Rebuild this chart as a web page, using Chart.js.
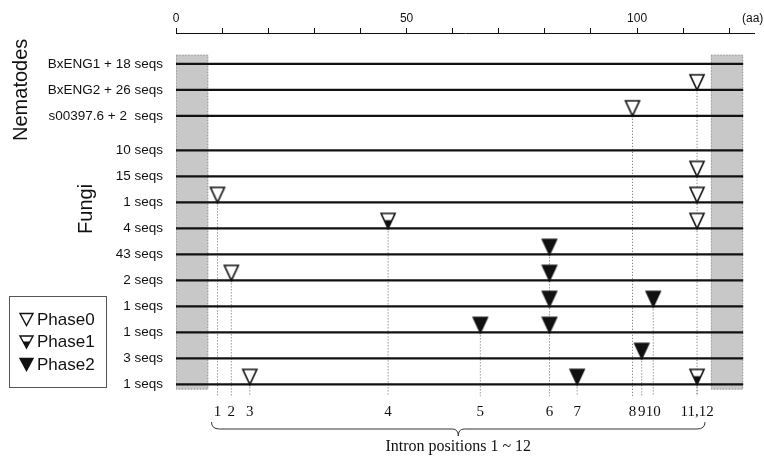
<!DOCTYPE html>
<html lang="en">
<head>
<meta charset="UTF-8">
<title>Intron positions</title>
<script src="https://cdn.jsdelivr.net/npm/chart.js@4.4.1/dist/chart.umd.min.js"></script>
<style>
    html, body { margin: 0; padding: 0; background: #fff; }
</style>
</head>
<body>
<canvas id="chart" width="764" height="459"></canvas>
<script>
// Rows, top to bottom
const rowLabels = ['BxENG1 + 18 seqs', 'BxENG2 + 26 seqs', 's00397.6 + 2  seqs',
    '10 seqs', '15 seqs', '1 seqs', '4 seqs', '43 seqs', '2 seqs', '1 seqs', '1 seqs', '3 seqs', '1 seqs'];
const rowGroups = ['Nematodes', 'Nematodes', 'Nematodes',
    'Fungi', 'Fungi', 'Fungi', 'Fungi', 'Fungi', 'Fungi', 'Fungi', 'Fungi', 'Fungi', 'Fungi'];

// Introns: position (aa) and phase
const intronNames = ['1', '2', '3', '4', '5', '6', '7', '8', '9', '10', '11', '12'];
const intronPos = [9, 12, 16, 46, 66, 81, 87, 99, 101, 103.5, 113, 113];
const intronPhase = [0, 0, 0, 1, 2, 2, 2, 0, 2, 2, 0, 1];

// Introns found in each row (intron numbers)
const rowIntrons = [[], [11], [8], [], [11], [1, 11], [4, 11], [6], [2, 6], [6, 10], [5, 6], [9], [3, 7, 12]];

// Axis
const topTickLabels = [0, 50, 100];
const maskedRegions = [[0, 7], [116, 123]];
const proteinLength = 123;
const phaseNames = ['Phase0', 'Phase1', 'Phase2'];

const xMax = 125.35;
const groupGap = 0.33;
const rowVal = i => i + (rowGroups[i] === 'Fungi' ? groupGap : 0);
const lastRow = rowLabels.length - 1;

function drawTri(g, cx, top, w, h, phase, lw) {
    const l = cx - w / 2, r = cx + w / 2, apex = top + h;
    g.save();
    g.lineWidth = lw;
    g.strokeStyle = '#111';
    g.fillStyle = '#111';
    g.lineJoin = 'miter';
    g.beginPath();
    g.moveTo(l, top); g.lineTo(r, top); g.lineTo(cx, apex); g.closePath();
    if (phase === 2) {
        g.fill();
    } else {
        g.fillStyle = '#fff';
        g.fill();
        if (phase === 1) {
            const cut = top + h * 0.45;
            const half = (w / 2) * (apex - cut) / h;
            g.fillStyle = '#111';
            g.beginPath();
            g.moveTo(cx - half, cut); g.lineTo(cx + half, cut); g.lineTo(cx, apex); g.closePath();
            g.fill();
        }
        g.beginPath();
        g.moveTo(l, top); g.lineTo(r, top); g.lineTo(cx, apex); g.closePath();
    }
    g.stroke();
    g.restore();
}

// canvas point styles: triangle sits above the point, apex on it
function makeMarker(phase) {
    const c = document.createElement('canvas');
    c.width = 18; c.height = 36;
    drawTri(c.getContext('2d'), 9, 3, 14, 15, phase, 1.6);
    return c;
}
const markerImgs = [0, 1, 2].map(makeMarker);

const datasets = [];

// row lines
rowLabels.forEach((_, i) => {
    datasets.push({
        data: [{ x: 0, y: rowVal(i) }, { x: proteinLength, y: rowVal(i) }],
        showLine: true, borderColor: '#111', borderWidth: 2.2, pointRadius: 0, order: 2
    });
});

// dotted guides, from the first row that has the intron down to the labels
intronNames.forEach((name, k) => {
    const rows = rowIntrons.map((list, i) => list.includes(k + 1) ? i : -1).filter(i => i >= 0);
    datasets.push({
        data: [{ x: intronPos[k], y: rowVal(Math.min(...rows)) }, { x: intronPos[k], y: rowVal(lastRow) + 0.45 }],
        showLine: true, borderColor: '#666', borderWidth: 1, borderDash: [1, 2], pointRadius: 0, order: 3
    });
});

// markers, one dataset per phase
phaseNames.forEach((name, p) => {
    const pts = [];
    rowIntrons.forEach((list, i) => list.forEach(n => {
        if (intronPhase[n - 1] === p) pts.push({ x: intronPos[n - 1], y: rowVal(i) });
    }));
    datasets.push({
        label: name, data: pts, pointStyle: markerImgs[p], pointRadius: 9, order: 0
    });
});

// bottom tick labels (same position shares a label, e.g. "11,12")
const introTicks = [];
intronPos.forEach((pos, k) => {
    const t = introTicks.find(t => t.value === pos);
    if (t) t.label += ',' + intronNames[k]; else introTicks.push({ value: pos, label: intronNames[k] });
});

const decorations = {
    id: 'decorations',
    beforeDatasetsDraw(chart) {
        const { ctx, scales: { x, y } } = chart;
        const top = y.getPixelForValue(rowVal(0) - 0.35);
        const bottom = y.getPixelForValue(rowVal(lastRow) + 0.2);
        ctx.save();
        maskedRegions.forEach(([a, b]) => {
            const l = x.getPixelForValue(a), r = x.getPixelForValue(b);
            ctx.fillStyle = '#c8c8c8';
            ctx.fillRect(l, top, r - l, bottom - top);
            ctx.setLineDash([1, 2]);
            ctx.strokeStyle = '#8c8c8c';
            ctx.lineWidth = 1;
            ctx.strokeRect(l + 0.5, top + 0.5, r - l - 1, bottom - top - 1);
        });
        ctx.restore();
    },
    afterDraw(chart) {
        const { ctx, scales: { x, y } } = chart;
        ctx.save();
        ctx.fillStyle = '#111';

        // unit
        ctx.font = '12px "Liberation Sans", Arial, sans-serif';
        ctx.textBaseline = 'middle';
        ctx.textAlign = 'left';
        ctx.fillText('(aa)', 742, 19);

        // group labels
        ctx.font = '20px "Liberation Sans", Arial, sans-serif';
        ctx.textAlign = 'center';
        ctx.textBaseline = 'alphabetic';
        [['Nematodes', 27, y.getPixelForValue(rowVal(1))], ['Fungi', 92, y.getPixelForValue(rowVal(5) + 0.25)]]
            .forEach(([t, bx, cy]) => {
                ctx.save();
                ctx.translate(bx, cy);
                ctx.rotate(-Math.PI / 2);
                ctx.fillText(t, 0, 0);
                ctx.restore();
            });

        // legend
        ctx.strokeStyle = '#555';
        ctx.lineWidth = 1;
        ctx.strokeRect(9.5, 296.5, 97, 91);
        ctx.font = '17px "Liberation Sans", Arial, sans-serif';
        ctx.textAlign = 'left';
        ctx.textBaseline = 'middle';
        phaseNames.forEach((name, i) => {
            const cy = 320 + i * 22.5;
            drawTri(ctx, 26.5, cy - 6.5, 13, 12, i, 1.4);
            ctx.fillStyle = '#111';
            ctx.fillText(name, 37, cy);
        });

        // brace under intron labels
        const x0 = x.getPixelForValue(intronPos[0]) - 6;
        const x1 = x.getPixelForValue(intronPos[intronPos.length - 1]) + 8;
        const xm = (x0 + x1) / 2;
        const yTop = 422, yMid = 429, yTip = 436;
        ctx.strokeStyle = '#333';
        ctx.lineWidth = 1;
        ctx.beginPath();
        ctx.moveTo(x0, yTop);
        ctx.quadraticCurveTo(x0, yMid, x0 + 8, yMid);
        ctx.lineTo(xm - 6, yMid);
        ctx.quadraticCurveTo(xm, yMid, xm, yTip);
        ctx.quadraticCurveTo(xm, yMid, xm + 6, yMid);
        ctx.lineTo(x1 - 8, yMid);
        ctx.quadraticCurveTo(x1, yMid, x1, yTop);
        ctx.stroke();

        ctx.font = '16px "Liberation Serif", "Times New Roman", serif';
        ctx.textAlign = 'center';
        ctx.fillText('Intron positions 1 ~ ' + intronNames.length, xm, 447);
        ctx.restore();
    }
};

new Chart(document.getElementById('chart'), {
    type: 'scatter',
    data: { datasets },
    plugins: [decorations],
    options: {
        responsive: false,
        animation: false,
        devicePixelRatio: 1,
        events: [],
        layout: { padding: { left: 0, right: 0, top: 0, bottom: 0 } },
        plugins: { legend: { display: false }, tooltip: { enabled: false } },
        scales: {
            x: {
                type: 'linear', position: 'top', min: 0, max: xMax, bounds: 'data',
                afterFit: s => { s.height = 33; },
                border: { display: true, color: '#111', width: 1 },
                grid: { drawOnChartArea: false, drawTicks: true, tickLength: 5, color: '#111', lineWidth: 1 },
                ticks: {
                    stepSize: 10, includeBounds: false, padding: 2, maxRotation: 0, autoSkip: false,
                    color: '#111', font: { family: '"Liberation Sans", Arial, sans-serif', size: 12 },
                    callback: v => topTickLabels.includes(v) ? String(v) : ''
                }
            },
            x2: {
                type: 'linear', position: 'bottom', min: 0, max: xMax, bounds: 'data',
                afterFit: s => { s.height = 59; },
                afterBuildTicks: s => { s.ticks = introTicks.map(t => ({ value: t.value })); },
                border: { display: false },
                grid: { display: false, drawTicks: false },
                ticks: {
                    padding: 3, maxRotation: 0, minRotation: 0, autoSkip: false, color: '#111',
                    font: { family: '"Liberation Serif", "Times New Roman", serif', size: 15 },
                    callback: (v, i) => introTicks[i].label
                }
            },
            y: {
                type: 'linear', reverse: true, min: -1.185, max: 12.93, bounds: 'data',
                afterFit: s => { s.width = 176; },
                afterBuildTicks: s => { s.ticks = rowLabels.map((_, i) => ({ value: rowVal(i) })); },
                border: { display: false },
                grid: { display: false, drawTicks: false },
                ticks: {
                    padding: 13, autoSkip: false, color: '#111',
                    font: { family: '"Liberation Sans", Arial, sans-serif', size: 13.5 },
                    callback: (v, i) => rowLabels[i]
                }
            }
        }
    }
});
</script>
</body>
</html>
